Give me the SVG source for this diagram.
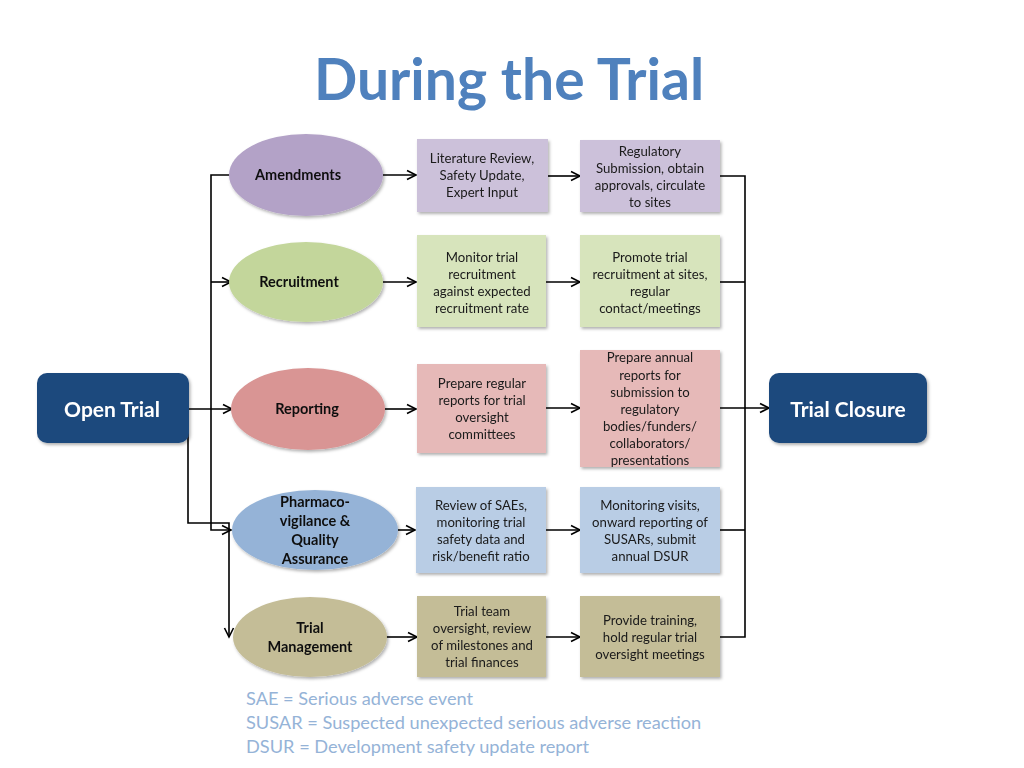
<svg xmlns="http://www.w3.org/2000/svg" width="1024" height="768" viewBox="0 0 1024 768">
<defs>
<filter id="sh" x="-20%" y="-20%" width="140%" height="140%">
<feDropShadow dx="1.5" dy="2" stdDeviation="1.5" flood-color="#000" flood-opacity="0.3"/>
</filter>
<marker id="ar" viewBox="0 0 12 12" refX="10.5" refY="6" markerWidth="12" markerHeight="12" markerUnits="userSpaceOnUse" orient="auto">
<path d="M1.5,1.5 L10.5,6 L1.5,10.5" fill="none" stroke="#000" stroke-width="1.6"/>
</marker>
<style>
text{font-family:Lato,"Liberation Sans",sans-serif;}
.t{font-size:13.2px;fill:#1a1a1a;text-anchor:middle;}
.e{font-size:14.5px;font-weight:bold;fill:#111;text-anchor:middle;}
.big{font-size:21px;font-weight:bold;fill:#fff;text-anchor:middle;}
.leg{font-size:18.2px;fill:#95b3d7;}
.c{fill:none;stroke:#000;stroke-width:1.6;}
.a{marker-end:url(#ar);}
.n{filter:url(#sh);}
</style>
</defs>
<rect width="1024" height="768" fill="#fff"/>
<text x="509" y="100" font-size="57" font-weight="bold" fill="#4f81bd" text-anchor="middle">During the Trial</text>

<g id="connectors">
<path class="c a" d="M231,175 H211 V530 H231"/>
<path class="c a" d="M211,282 H231"/>
<path class="c a" d="M189,409 H232"/>
<path class="c a" d="M188,409 V523 H229 V637"/>
<path class="c a" d="M383,175 H416"/>
<path class="c a" d="M383,282 H416"/>
<path class="c a" d="M385,409 H416"/>
<path class="c a" d="M398,530 H415"/>
<path class="c a" d="M386,637 H417"/>
<path class="c a" d="M548,176 H580"/>
<path class="c a" d="M546,282 H580"/>
<path class="c a" d="M546,408 H580"/>
<path class="c a" d="M546,530 H580"/>
<path class="c a" d="M546,637 H580"/>
<path class="c" d="M720,176 H745 V637 H720"/>
<path class="c" d="M720,282 H745"/>
<path class="c" d="M720,530 H745"/>
<path class="c a" d="M720,408 H769"/>
</g>

<g id="open-trial" class="n"><rect x="37" y="373" width="152" height="70" rx="10" fill="#1f497d"/><text class="big" x="112" y="417">Open Trial</text></g>
<g id="trial-closure" class="n"><rect x="769" y="373" width="158" height="70" rx="10" fill="#1f497d"/><text class="big" x="848" y="417">Trial Closure</text></g>

<g id="amendments" class="n"><ellipse cx="306" cy="175" rx="77" ry="41" fill="#b3a2c7"/><text class="e" x="298" y="180">Amendments</text></g>
<g id="recruitment" class="n"><ellipse cx="306" cy="282" rx="77" ry="40" fill="#c3d69b"/><text class="e" x="299" y="287">Recruitment</text></g>
<g id="reporting" class="n"><ellipse cx="308" cy="409" rx="77" ry="41" fill="#d99594"/><text class="e" x="307" y="414">Reporting</text></g>
<g id="pharmaco" class="n"><ellipse cx="315" cy="530" rx="83" ry="40" fill="#95b3d7"/>
<text class="e" x="315" y="507">Pharmaco-</text><text class="e" x="315" y="526">vigilance &amp;</text><text class="e" x="315" y="545">Quality</text><text class="e" x="315" y="564">Assurance</text></g>
<g id="trial-management" class="n"><ellipse cx="310" cy="637" rx="77" ry="40" fill="#c4bd97"/>
<text class="e" x="310" y="633">Trial</text><text class="e" x="310" y="652">Management</text></g>

<g id="lit-review" class="n"><rect x="417" y="139" width="131" height="73" fill="#ccc1da"/>
<text class="t" x="482" y="163">Literature Review,</text><text class="t" x="482" y="180">Safety Update,</text><text class="t" x="482" y="197">Expert Input</text></g>
<g id="reg-submission" class="n"><rect x="580" y="140" width="140" height="72" fill="#ccc1da"/>
<text class="t" x="650" y="156">Regulatory</text><text class="t" x="650" y="173">Submission, obtain</text><text class="t" x="650" y="190">approvals, circulate</text><text class="t" x="650" y="207">to sites</text></g>

<g id="monitor-recruit" class="n"><rect x="417" y="235" width="129" height="92" fill="#d7e4bc"/>
<text class="t" x="482" y="262">Monitor trial</text><text class="t" x="482" y="279">recruitment</text><text class="t" x="482" y="296">against expected</text><text class="t" x="482" y="313">recruitment rate</text></g>
<g id="promote-recruit" class="n"><rect x="580" y="235" width="140" height="92" fill="#d7e4bc"/>
<text class="t" x="650" y="262">Promote trial</text><text class="t" x="650" y="279">recruitment at sites,</text><text class="t" x="650" y="296">regular</text><text class="t" x="650" y="313">contact/meetings</text></g>

<g id="regular-reports" class="n"><rect x="417" y="364" width="129" height="89" fill="#e6b9b8"/>
<text class="t" x="482" y="388">Prepare regular</text><text class="t" x="482" y="405">reports for trial</text><text class="t" x="482" y="422">oversight</text><text class="t" x="482" y="439">committees</text></g>
<g id="annual-reports" class="n"><rect x="580" y="350" width="140" height="117" fill="#e6b9b8"/>
<text class="t" x="650" y="362">Prepare annual</text><text class="t" x="650" y="380">reports for</text><text class="t" x="650" y="397">submission to</text><text class="t" x="650" y="414">regulatory</text><text class="t" x="650" y="431">bodies/funders/</text><text class="t" x="650" y="448">collaborators/</text><text class="t" x="650" y="465">presentations</text></g>

<g id="review-saes" class="n"><rect x="416" y="487" width="130" height="86" fill="#b9cde5"/>
<text class="t" x="481" y="510">Review of SAEs,</text><text class="t" x="481" y="527">monitoring trial</text><text class="t" x="481" y="544">safety data and</text><text class="t" x="481" y="561">risk/benefit ratio</text></g>
<g id="monitoring-visits" class="n"><rect x="580" y="487" width="140" height="86" fill="#b9cde5"/>
<text class="t" x="650" y="510">Monitoring visits,</text><text class="t" x="650" y="527">onward reporting of</text><text class="t" x="650" y="544">SUSARs, submit</text><text class="t" x="650" y="561">annual DSUR</text></g>

<g id="team-oversight" class="n"><rect x="417" y="596" width="129" height="81" fill="#c4bd97"/>
<text class="t" x="482" y="616">Trial team</text><text class="t" x="482" y="633">oversight, review</text><text class="t" x="482" y="650">of milestones and</text><text class="t" x="482" y="667">trial finances</text></g>
<g id="training" class="n"><rect x="580" y="596" width="140" height="81" fill="#c4bd97"/>
<text class="t" x="650" y="625">Provide training,</text><text class="t" x="650" y="642">hold regular trial</text><text class="t" x="650" y="659">oversight meetings</text></g>

<g id="legend">
<text class="leg" x="246" y="705">SAE = Serious adverse event</text>
<text class="leg" x="246" y="729">SUSAR = Suspected unexpected serious adverse reaction</text>
<text class="leg" x="246" y="753">DSUR = Development safety update report</text>
</g>
</svg>
